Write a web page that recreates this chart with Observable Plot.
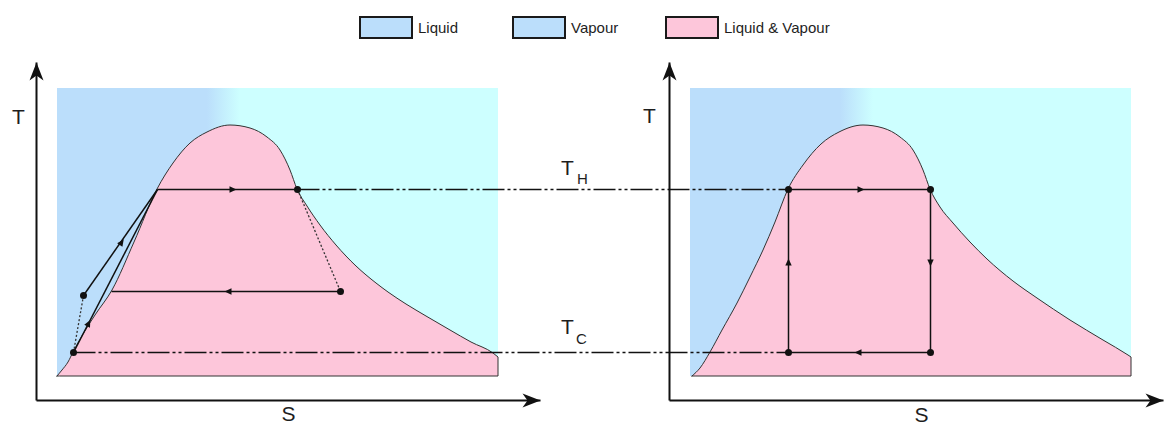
<!DOCTYPE html>
<html>
<head>
<meta charset="utf-8">
<script src="https://cdn.jsdelivr.net/npm/d3@7"></script>
<script src="https://cdn.jsdelivr.net/npm/@observablehq/plot@0.6"></script>
<style>
  html, body { margin: 0; padding: 0; background: #fff; }
  #legend {
    height: 50px; box-sizing: border-box; padding: 16px 0 0 359px;
    display: flex; align-items: flex-start;
    font: 15px "Liberation Sans", Arial, sans-serif; color: #1e1e1e;
  }
  #legend .item { display: flex; align-items: center; }
  #legend .item:nth-child(1) { width: 153px; }
  #legend .item:nth-child(2) { width: 153px; }
  #legend .swatch { width: 54px; height: 23px; box-sizing: border-box; border: 2px solid #1a1a1a; margin-right: 5px; }
  #chart svg { display: block; }
</style>
</head>
<body>
<div id="legend"></div>
<div id="chart"></div>
<script>
// Legend entries
const legendLabels = ["Liquid", "Vapour", "Liquid & Vapour"];
const legendColors = ["#bbdefb", "#bbdefb", "#fdc6da"];

// Saturation dome, left diagram (entropy S, temperature T)
const domeLeftS = [2.1, 2.6, 3.2, 3.7, 4.7, 5.9, 7.6, 9.8, 12.1, 13.7, 15.4, 17.1, 19.4, 21.4, 23.1, 24.4, 25.4, 26.1, 27.1, 28.4, 30.0, 32.0, 34.0, 35.2, 37.0, 39.0, 41.4, 43.5, 45.7, 46.2];
const domeLeftT = [2.4, 3.0, 3.8, 4.8, 6.6, 8.5, 11.0, 15.8, 21.1, 23.7, 25.7, 26.8, 27.5, 27.2, 26.3, 25.0, 23.0, 21.1, 19.4, 17.5, 15.5, 13.4, 11.7, 10.8, 9.6, 8.4, 7.0, 5.8, 4.7, 4.3];

// Saturation dome, right diagram
const domeRightS = [2.3, 3.1, 4.1, 5.3, 6.8, 8.1, 9.4, 10.6, 11.9, 13.4, 15.2, 17.0, 19.4, 21.4, 23.1, 24.4, 25.4, 26.1, 27.1, 28.4, 30.1, 31.8, 34.4, 36.8, 40.1, 43.4, 45.9, 46.2];
const domeRightT = [2.4, 3.2, 4.8, 7.0, 9.7, 12.3, 15.0, 17.8, 21.1, 23.5, 25.6, 26.8, 27.5, 27.2, 26.3, 25.0, 23.0, 21.1, 19.3, 17.7, 15.8, 14.1, 11.9, 10.2, 8.0, 6.0, 4.5, 4.3];

// Phase-region backdrop (S from, S to, T from, T to)
const frameS = [2.1, 46.2];
const frameT = [2.4, 31.2];

// Heat source / sink temperatures
const T_H = 21.1;
const T_C = 4.8;

// Left cycle states A..F
const cycleLeftS = [12.1, 26.1, 30.4, 7.5, 4.7, 3.7];
const cycleLeftT = [T_H, T_H, 10.9, 10.9, 10.5, T_C];

// Right (Carnot) cycle corners, clockwise from top-left
const cycleRightS = [11.9, 26.1, 26.1, 11.9];
const cycleRightT = [T_H, T_H, T_C, T_C];

// Flow-direction arrowheads: S, T, heading (deg, 0 = up)
const flowLeftS = [19.6, 19.2, 8.5, 5.2];
const flowLeftT = [T_H, 10.9, 15.8, 7.7];
const flowLeftA = [90, -90, 34.9, 27.3];
const flowRightS = [19.1, 26.1, 18.9, 11.9];
const flowRightT = [T_H, 13.8, T_C, 13.8];
const flowRightA = [90, 180, -90, 0];

// Axis extents (S end, T end) of each diagram
const axisEndS = [50.4, 49.4];
const axisEndT = [33.8, 33.8];

// Horizontal distance between the two diagram origins, in S units
const RIGHT = 63.3;

// ---------- legend ----------
const legend = d3.select("#legend");
legendLabels.forEach((label, i) => {
  const item = legend.append("div").attr("class", "item");
  item.append("div").attr("class", "swatch").style("background", legendColors[i]);
  item.append("span").text(label);
});

// ---------- data tables ----------
const domeLeft = domeLeftS.map((s, i) => ({S: s, T: domeLeftT[i]}));
const domeRight = domeRightS.map((s, i) => ({S: s + RIGHT, T: domeRightT[i]}));
const frames = [0, RIGHT].map(dx => ({x1: frameS[0] + dx, x2: frameS[1] + dx, y1: frameT[0], y2: frameT[1]}));

const L = cycleLeftS.map((s, i) => [s, cycleLeftT[i]]);
const R = cycleRightS.map((s, i) => [s + RIGHT, cycleRightT[i]]);
const seg = (p, q) => ({x1: p[0], y1: p[1], x2: q[0], y2: q[1]});

const solid = [
  seg(L[0], L[1]), seg(L[2], L[3]), seg(L[4], L[0]), seg(L[5], L[0]),
  seg(R[0], R[1]), seg(R[1], R[2]), seg(R[2], R[3]), seg(R[3], R[0])
];
const dotted = [seg(L[1], L[2]), seg(L[4], L[5])];
const dashDot = [seg(L[1], R[0]), seg(L[5], R[3])];
const states = [L[1], L[2], L[4], L[5], ...R].map(([S, T]) => ({S, T}));

const flows = [
  ...flowLeftS.map((s, i) => ({S: s, T: flowLeftT[i], a: flowLeftA[i]})),
  ...flowRightS.map((s, i) => ({S: s + RIGHT, T: flowRightT[i], a: flowRightA[i]}))
];

const axes = [0, 1].flatMap(i => {
  const dx = i * RIGHT;
  return [
    {x1: dx, y1: 0, x2: dx, y2: axisEndT[i], a: 0},
    {x1: dx, y1: 0, x2: dx + axisEndS[i], y2: 0, a: 90}
  ];
});

const axisLabels = [
  {S: -1.8, T: 28.3, text: "T"},
  {S: RIGHT - 2.0, T: 28.4, text: "T"},
  {S: 25.2, T: -1.4, text: "S"},
  {S: RIGHT + 25.2, T: -1.5, text: "S"},
  {S: 53.1, T: 23.2, text: "T"},
  {S: 53.1, T: 7.3, text: "T"}
];
const subLabels = [
  {S: 54.6, T: 22.1, text: "H"},
  {S: 54.5, T: 6.1, text: "C"}
];

// ---------- symbols ----------
const dart = {draw(ctx) { ctx.moveTo(0, 0); ctx.lineTo(7, 18); ctx.lineTo(0, 13); ctx.lineTo(-7, 18); ctx.closePath(); }};
const tri = {draw(ctx) { ctx.moveTo(0, -4); ctx.lineTo(3.2, 3); ctx.lineTo(-3.2, 3); ctx.closePath(); }};

const font = "'Liberation Sans', Arial, sans-serif";
const ink = "#111";

const svg = Plot.plot({
  width: 1165,
  height: 375,
  margin: 0,
  x: {domain: [-3.6, 112.9], axis: null},
  y: {domain: [-2.5, 35], axis: null},
  style: {background: "transparent", fontFamily: font},
  marks: [
    Plot.rect(frames, {x1: "x1", x2: "x2", y1: "y1", y2: "y2", fill: "url(#phase-bg)"}),
    Plot.areaY(domeLeft, {x: "S", y1: frameT[0], y2: "T", curve: "monotone-x", fill: "#fdc6da", stroke: "#333", strokeWidth: 1}),
    Plot.areaY(domeRight, {x: "S", y1: frameT[0], y2: "T", curve: "monotone-x", fill: "#fdc6da", stroke: "#333", strokeWidth: 1}),
    Plot.link(dashDot, {x1: "x1", y1: "y1", x2: "x2", y2: "y2", stroke: ink, strokeWidth: 1.5, strokeDasharray: "22,3,3,3,3,3"}),
    Plot.link(dotted, {x1: "x1", y1: "y1", x2: "x2", y2: "y2", stroke: "#333", strokeWidth: 1.3, strokeDasharray: "2,2"}),
    Plot.link(solid, {x1: "x1", y1: "y1", x2: "x2", y2: "y2", stroke: ink, strokeWidth: 1.5}),
    Plot.dot(states, {x: "S", y: "T", r: 3.5, fill: ink, stroke: "none"}),
    Plot.dot(flows, {x: "S", y: "T", r: 4, symbol: tri, rotate: "a", fill: ink, stroke: "none"}),
    Plot.link(axes, {x1: "x1", y1: "y1", x2: "x2", y2: "y2", stroke: ink, strokeWidth: 2}),
    Plot.dot(axes, {x: "x2", y: "y2", r: 8, symbol: dart, rotate: "a", fill: ink, stroke: "none"}),
    Plot.text(axisLabels, {x: "S", y: "T", text: "text", fontSize: 21, fill: "#1e1e1e", textAnchor: "middle", lineAnchor: "middle"}),
    Plot.text(subLabels, {x: "S", y: "T", text: "text", fontSize: 15, fill: "#1e1e1e", textAnchor: "middle", lineAnchor: "middle"})
  ]
});

// Horizontal blend from the liquid blue into the vapour cyan behind each dome
const NS = "http://www.w3.org/2000/svg";
const defs = document.createElementNS(NS, "defs");
const grad = document.createElementNS(NS, "linearGradient");
grad.setAttribute("id", "phase-bg");
grad.setAttribute("x1", "0"); grad.setAttribute("x2", "1");
grad.setAttribute("y1", "0"); grad.setAttribute("y2", "0");
[["0.34", "#bbdefb"], ["0.415", "#cdffff"]].forEach(([o, c]) => {
  const stop = document.createElementNS(NS, "stop");
  stop.setAttribute("offset", o);
  stop.setAttribute("stop-color", c);
  grad.appendChild(stop);
});
defs.appendChild(grad);
svg.insertBefore(defs, svg.firstChild);

document.getElementById("chart").appendChild(svg);
</script>
</body>
</html>
